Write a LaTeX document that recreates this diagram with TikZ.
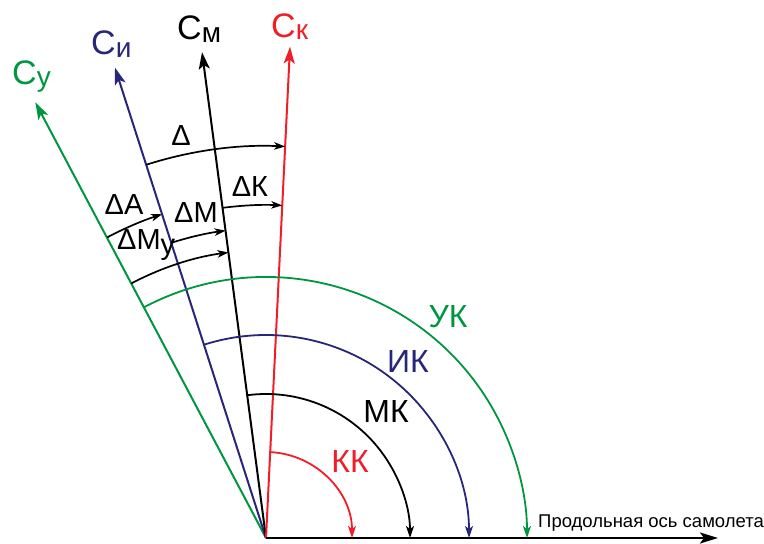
\documentclass[tikz,border=0pt]{standalone}
\usepackage{fontspec}
\setmainfont{Liberation Sans}
\usetikzlibrary{arrows.meta}
\definecolor{cg}{RGB}{0,150,64}
\definecolor{cn}{RGB}{40,38,120}
\definecolor{cr}{RGB}{240,30,40}
\begin{document}
\begin{tikzpicture}[x=1pt,y=1pt,
 ray/.style={line width=2pt, -{Stealth[length=17pt,width=11pt,inset=4pt]}},
 axisline/.style={line width=2.4pt, -{Stealth[length=18pt,width=11pt,inset=4pt]}},
 karc/.style={line width=1.8pt, -{Stealth[length=12pt,width=8pt,inset=3pt]}},
 darc/.style={line width=1.7pt, black, -{Stealth[length=11pt,width=7.5pt,inset=3pt]}},
 biglab/.style={font=\fontsize{34}{34}\selectfont, inner sep=0pt},
 arclab/.style={font=\fontsize{32}{32}\selectfont, inner sep=0pt, anchor=base},
 dl/.style={font=\fontsize{29}{29}\selectfont, inner sep=0pt, anchor=base},
]
\useasboundingbox (0,0) rectangle (764,544);
\begin{scope}[shift={(266,6)}]
\coordinate (O) at (0,0);
\coordinate (Ck) at (87.2:492);
\coordinate (Cm) at (97.5:490);
\coordinate (Ci) at (107.8:494);
\coordinate (Cy) at (117.9:493);
\coordinate (ax) at (452,0);
% rays
\draw[ray, cg] (O) -- (Cy);
\draw[ray, cn] (O) -- (Ci);
\draw[ray, black] (O) -- (Cm);
\draw[ray, cr] (O) -- (Ck);
\draw[axisline] (O) -- (ax);
% course arcs
\draw[karc, cr] (O) ++(87.2:86) arc[start angle=87.2, end angle=0, radius=86];
\draw[karc, black] (O) ++(97.5:144) arc[start angle=97.5, end angle=0, radius=144];
\draw[karc, cn] (O) ++(107.8:203) arc[start angle=107.8, end angle=0, radius=203];
\draw[karc, cg] (O) ++(117.9:261) arc[start angle=117.9, end angle=0, radius=261];
% delta arcs
\draw[darc] (O) ++(107.8:392) arc[start angle=107.8, end angle=87.2, radius=392];
\draw[darc] (O) ++(97.5:333) arc[start angle=97.5, end angle=87.2, radius=333];
\draw[darc] (O) ++(117.9:340) arc[start angle=117.9, end angle=107.8, radius=340];
\draw[darc] (O) ++(107.8:310) arc[start angle=107.8, end angle=97.5, radius=310];
\draw[darc] (O) ++(117.9:288) arc[start angle=117.9, end angle=97.5, radius=288];
\end{scope}
% ray labels
\node[biglab, text=cg, anchor=base west] (lCy) at (12,459) {С\raisebox{-2pt}{\fontsize{28}{28}\selectfont у}};
\node[biglab, text=cn, anchor=base west] (lCi) at (91,489) {С\raisebox{-3pt}{\fontsize{28}{28}\selectfont и}};
\node[biglab, text=black, anchor=base west] (lCm) at (177,504) {С\raisebox{-3pt}{\fontsize{28}{28}\selectfont м}};
\node[biglab, text=cr, anchor=base west] (lCk) at (271,506) {С\raisebox{-2pt}{\fontsize{28}{28}\selectfont к}};
% delta labels
\node[dl] (lD) at (181,398) {Δ};
\node[dl] (lDK) at (250,347) {ΔК};
\node[dl] (lDA) at (124,329) {ΔА};
\node[dl] (lDM) at (196,321) {ΔМ};
\node[dl, anchor=base west] (lDMy) at (117,294) {ΔМ\raisebox{-5pt}{у}};
% arc labels
\node[arclab, text=cg] (lUK) at (448,216) {УК};
\node[arclab, text=cn] (lIK) at (408,171) {ИК};
\node[arclab, text=black] (lMK) at (386,121) {МК};
\node[arclab, text=cr] (lKK) at (350,71) {КК};
% axis label
\node[font=\fontsize{18.5}{18.5}\selectfont, inner sep=0pt, anchor=base west] (lax) at (538,16) {Продольная ось самолета};
\end{tikzpicture}
\end{document}
